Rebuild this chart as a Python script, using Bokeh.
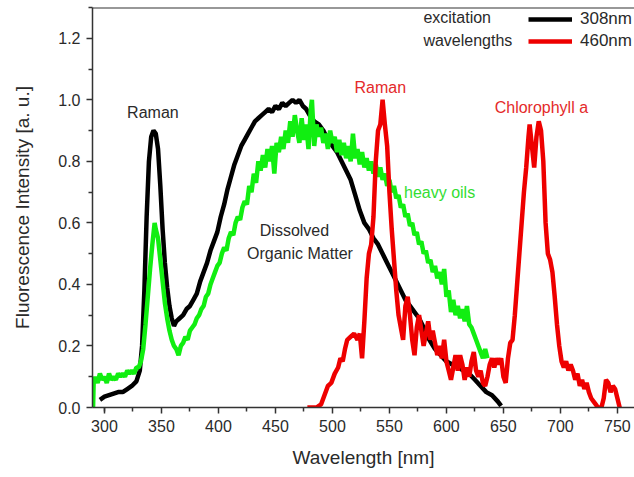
from bokeh.plotting import figure
from bokeh.models import Span, Label, Legend, LegendItem, FixedTicker, NumeralTickFormatter, Range1d
from bokeh.embed import file_html
from bokeh.resources import INLINE

# ---- data ----
black_x = [296, 300, 304, 308, 312, 316, 320, 324, 328, 331, 333, 335, 337, 339, 341, 343, 345, 347, 349, 351,
           353, 355, 357, 359, 361, 363, 366, 369, 372, 375, 378, 381, 384, 387, 390, 393, 396, 399, 402, 405,
           408, 411, 414, 417, 420, 423, 426, 429, 432, 435, 438, 441, 444, 447, 450, 453, 456, 459, 462, 465,
           468, 471, 474, 477, 480, 484, 488, 492, 496, 500, 504, 508, 512, 516, 520, 524, 528, 532, 536, 540,
           544, 548, 552, 556, 560, 564, 568, 572, 576, 580, 585, 590, 595, 600, 605, 610, 615, 620, 625, 630,
           635, 640, 645, 648]
black_y = [0.025, 0.035, 0.04, 0.045, 0.05, 0.05, 0.06, 0.07, 0.085, 0.12, 0.2, 0.38, 0.62, 0.8, 0.88, 0.9, 0.89,
           0.84, 0.72, 0.58, 0.47, 0.39, 0.33, 0.29, 0.265, 0.28, 0.29, 0.3, 0.32, 0.33, 0.35, 0.37, 0.41, 0.44,
           0.47, 0.51, 0.54, 0.57, 0.62, 0.66, 0.71, 0.75, 0.79, 0.82, 0.85, 0.87, 0.89, 0.91, 0.93, 0.94, 0.95,
           0.96, 0.97, 0.96, 0.98, 0.97, 0.99, 0.98, 0.99, 1.0, 0.99, 1.0, 0.98, 0.97, 0.95, 0.93, 0.92, 0.9,
           0.87, 0.85, 0.83, 0.8, 0.77, 0.74, 0.69, 0.64, 0.6, 0.58, 0.55, 0.53, 0.5, 0.47, 0.44, 0.41, 0.38,
           0.35, 0.33, 0.31, 0.29, 0.26, 0.22, 0.19, 0.17, 0.15, 0.14, 0.13, 0.12, 0.11, 0.09, 0.07, 0.05, 0.04,
           0.02, 0.005]

green_x = [290, 290.5, 292, 294, 296, 298, 300, 302, 304, 306, 308, 310, 312, 314, 316, 318, 320, 322, 324, 326,
           328, 330, 332, 334, 336, 338, 340, 342, 344, 345, 347, 349, 351, 353, 355, 357, 359, 361, 363, 365,
           367, 369, 371, 373, 375, 377, 379, 381, 383, 385, 387, 389, 391, 393, 395, 397, 399, 401, 403, 405,
           407, 409, 411, 413, 415, 417, 419, 421, 423, 425, 427, 429, 431, 433, 435, 437, 439, 441, 443, 445,
           447, 449, 451, 453, 455, 457, 459, 461, 463, 465, 467, 469, 471, 473, 475, 477, 479, 481, 482, 484,
           486, 488, 490, 492, 494, 496, 498, 500, 502, 504, 506, 508, 510, 512, 514, 516, 518, 520, 522, 524,
           526, 528, 530, 532, 534, 536, 538, 540, 542, 544, 546, 548, 550, 552, 554, 556, 558, 560, 562, 564,
           566, 568, 570, 572, 574, 576, 578, 580, 582, 584, 586, 588, 590, 592, 594, 596, 598, 600, 602, 604,
           606, 608, 610, 612, 614, 616, 618, 620, 622, 624, 626, 628, 630, 632, 634, 636]
green_y = [0.0, 0.08, 0.1, 0.08, 0.11, 0.09, 0.1, 0.08, 0.11, 0.09, 0.1, 0.09, 0.11, 0.1, 0.11, 0.1, 0.12, 0.11,
           0.12, 0.11, 0.13, 0.13, 0.15, 0.19, 0.27, 0.36, 0.45, 0.53, 0.6, 0.58, 0.55, 0.48, 0.41, 0.34, 0.29,
           0.25, 0.22, 0.2, 0.19, 0.17, 0.2, 0.21, 0.23, 0.22, 0.25, 0.26, 0.27, 0.29, 0.3, 0.32, 0.33, 0.36,
           0.37, 0.4, 0.42, 0.44, 0.46, 0.47, 0.5, 0.52, 0.51, 0.55, 0.57, 0.56, 0.6, 0.62, 0.61, 0.65, 0.67,
           0.66, 0.72, 0.7, 0.76, 0.73, 0.8, 0.77, 0.82, 0.78, 0.84, 0.8, 0.85, 0.76, 0.86, 0.83, 0.88, 0.84,
           0.9, 0.86, 0.93, 0.88, 0.95, 0.9, 0.86, 0.94, 0.87, 0.92, 0.84, 0.97, 1.0, 0.85, 0.92, 0.88, 0.91,
           0.86, 0.89, 0.84, 0.9, 0.86, 0.88, 0.83, 0.87, 0.82, 0.86, 0.81, 0.85, 0.8, 0.89, 0.81, 0.84, 0.79,
           0.83, 0.78, 0.81, 0.77, 0.8, 0.76, 0.79, 0.75, 0.78, 0.74, 0.76, 0.72, 0.74, 0.7, 0.72, 0.68, 0.69,
           0.65, 0.66, 0.62, 0.63, 0.59, 0.6, 0.56, 0.57, 0.53, 0.54, 0.5, 0.51, 0.47, 0.48, 0.44, 0.46, 0.42,
           0.44, 0.4, 0.45, 0.36, 0.38, 0.31, 0.35, 0.3, 0.33, 0.29, 0.32, 0.28, 0.33, 0.27, 0.26, 0.24, 0.22,
           0.2, 0.18, 0.16, 0.19, 0.16]

red_x = [478, 486, 490, 493, 496, 499, 502, 505, 507, 509, 511, 513, 516, 519, 522, 524, 526, 528, 530, 532, 534,
         536, 538, 540, 542, 544, 546, 548, 550, 552, 554, 556, 558, 560, 562, 564, 566, 568, 570, 572, 574, 576,
         578, 580, 582, 584, 586, 588, 590, 592, 594, 596, 598, 600, 602, 604, 606, 608, 610, 612, 614, 616, 618,
         620, 622, 624, 626, 628, 630, 632, 634, 636, 638, 640, 642, 644, 646, 648, 650, 652, 654, 656, 658, 660,
         662, 664, 666, 668, 670, 672, 673, 675, 677, 679, 681, 683, 685, 687, 689, 691, 693, 695, 697, 699, 701,
         703, 705, 707, 709, 711, 713, 715, 717, 719, 721, 723, 725, 727, 729, 731, 733, 736, 738, 740, 742, 744,
         746, 748, 750, 752]
red_y = [0.0, 0.0, 0.01, 0.04, 0.07, 0.08, 0.11, 0.13, 0.16, 0.15, 0.19, 0.22, 0.23, 0.24, 0.22, 0.24, 0.16, 0.28,
         0.42, 0.5, 0.53, 0.62, 0.8, 0.9, 0.92, 1.0, 0.92, 0.85, 0.7, 0.58, 0.48, 0.38, 0.3, 0.26, 0.22, 0.33,
         0.36, 0.3, 0.22, 0.17, 0.26, 0.3, 0.25, 0.2, 0.24, 0.28, 0.22, 0.25, 0.21, 0.17, 0.2, 0.16, 0.22, 0.15,
         0.12, 0.09, 0.13, 0.17, 0.12, 0.17, 0.14, 0.09, 0.13, 0.1, 0.15, 0.18, 0.12, 0.1, 0.12, 0.08, 0.07, 0.1,
         0.14, 0.16, 0.13, 0.16, 0.14, 0.16, 0.1, 0.08, 0.16, 0.21, 0.22, 0.3, 0.4, 0.5, 0.6, 0.7, 0.78, 0.88,
         0.92, 0.85, 0.78, 0.88, 0.93, 0.9, 0.8, 0.6, 0.5, 0.48, 0.44, 0.36, 0.27, 0.2, 0.15, 0.13, 0.15, 0.12,
         0.14, 0.12, 0.09, 0.11, 0.07, 0.09, 0.06, 0.08, 0.05, 0.03, 0.02, 0.01, 0.0, 0.0, 0.03, 0.09, 0.08,
         0.05, 0.07, 0.06, 0.03, 0.0]

x_ticks = [300, 350, 400, 450, 500, 550, 600, 650, 700, 750]
y_ticks = [0.0, 0.2, 0.4, 0.6, 0.8, 1.0, 1.2]
series_labels = ["308nm", "460nm"]

FONT = "Liberation Sans"
TXT = "#2a2a2a"
BLACK = "#000000"
RED = "#ee0000"
GREEN = "#11ee11"

p = figure(width=634, height=470, output_backend="svg", toolbar_location=None,
           x_range=Range1d(289.5, 765), y_range=Range1d(0, 1.3),
           min_border_left=92, min_border_right=0, min_border_top=7, min_border_bottom=60)
p.outline_line_color = None
p.xgrid.visible = False
p.ygrid.visible = False
p.background_fill_color = "white"

r_black = p.line(black_x, black_y, line_color=BLACK, line_width=4.5)
r_green = p.line(green_x, green_y, line_color=GREEN, line_width=4.5)
r_red = p.line(red_x, red_y, line_color=RED, line_width=4.5)

for ax in (p.xaxis[0], p.yaxis[0]):
    ax.axis_line_color = "#333333"
    ax.axis_line_width = 1.5
    ax.major_tick_line_color = "#333333"
    ax.minor_tick_line_color = "#333333"
    ax.major_tick_line_width = 1.5
    ax.minor_tick_line_width = 1.5
    ax.major_tick_in = 0
    ax.major_tick_out = 6
    ax.minor_tick_in = 0
    ax.minor_tick_out = 4
    ax.major_label_text_font = FONT
    ax.major_label_text_font_size = "16px"
    ax.major_label_text_color = TXT
    ax.axis_label_text_font = FONT
    ax.axis_label_text_font_size = "19px"
    ax.axis_label_text_font_style = "normal"
    ax.axis_label_text_color = TXT
    ax.major_label_standoff = 6

p.xaxis[0].ticker = FixedTicker(ticks=x_ticks, minor_ticks=[t + 25 for t in [275] + x_ticks])
p.yaxis[0].ticker = FixedTicker(ticks=y_ticks, minor_ticks=[round(t + 0.1, 2) for t in y_ticks])
p.yaxis[0].formatter = NumeralTickFormatter(format="0.0")
p.xaxis[0].axis_label = "Wavelength [nm]"
p.yaxis[0].axis_label = "Fluorescence Intensity [a. u.]"
p.xaxis[0].axis_label_standoff = 12
p.yaxis[0].axis_label_standoff = 22

p.add_layout(Span(location=1.3, dimension="width", line_color="#333333", line_width=2))

legend = Legend(items=[LegendItem(label=series_labels[0], renderers=[r_black]),
                       LegendItem(label=series_labels[1], renderers=[r_red])],
                location=(436, 356), orientation="vertical")
legend.padding = 0
legend.margin = 0
legend.spacing = 2
legend.border_line_color = None
legend.background_fill_alpha = 0
legend.glyph_width = 44
legend.glyph_height = 20
legend.label_height = 20
legend.label_standoff = 8
legend.label_text_font = FONT
legend.label_text_font_size = "17px"
legend.label_text_color = TXT
p.add_layout(legend)

def lab(x, y, text, color, align="center"):
    p.add_layout(Label(x=x, y=y, text=text, text_font=FONT, text_font_size="16px",
                       text_color=color, text_align=align, text_baseline="middle"))

lab(342.5, 0.958, "Raman", TXT)
lab(542, 1.039, "Raman", "#e42a2a")
lab(683.3, 0.974, "Chlorophyll a", "#e42a2a")
lab(594, 0.70, "heavy oils", "#33dd33")
lab(466.7, 0.574, "Dissolved", TXT)
lab(471.5, 0.50, "Organic Matter", TXT)
lab(579.8, 1.268, "excitation", TXT, "left")
lab(579.8, 1.194, "wavelengths", TXT, "left")

open("out.html", "w").write(file_html(p, INLINE))
